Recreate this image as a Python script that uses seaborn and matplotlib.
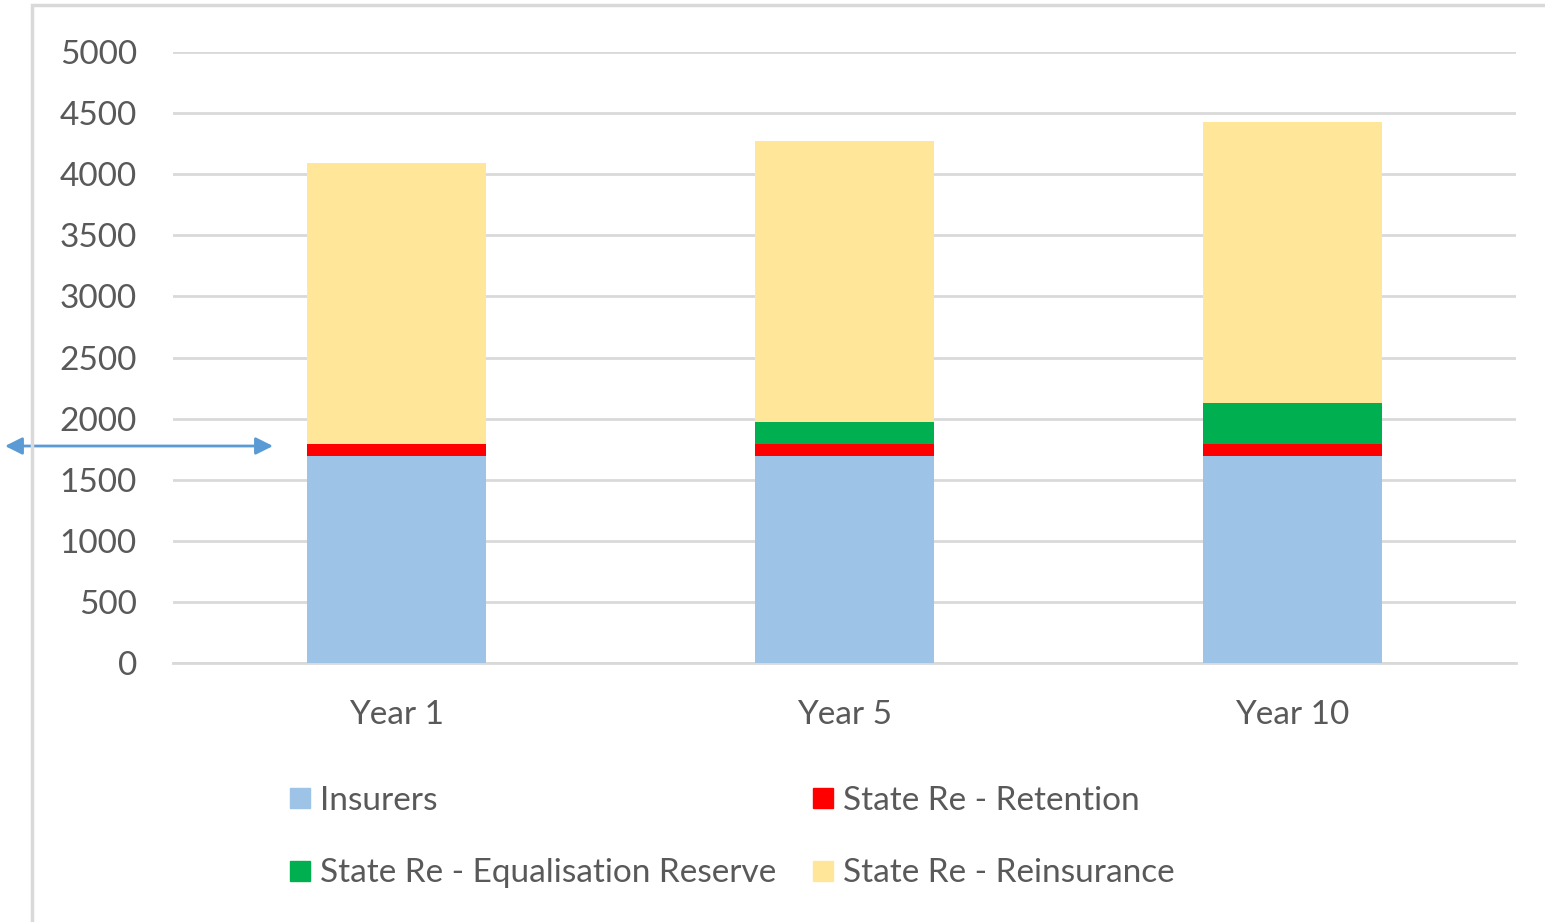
import matplotlib
matplotlib.use("Agg")
import matplotlib.pyplot as plt
from matplotlib.lines import Line2D
from matplotlib.patches import Rectangle, FancyArrowPatch
import seaborn as sns
import numpy as np

# Data
years = ["Year 1", "Year 5", "Year 10"]
insurers = [1690, 1690, 1690]
retention = [100, 100, 100]
equalisation = [0, 180, 340]
reinsurance = [2300, 2300, 2300]

series_names = ["Insurers", "State Re - Retention",
                "State Re - Equalisation Reserve", "State Re - Reinsurance"]
series_values = [insurers, retention, equalisation, reinsurance]
colors = ["#9DC3E6", "#FF0000", "#00B050", "#FFE699"]
yticks = [0, 500, 1000, 1500, 2000, 2500, 3000, 3500, 4000, 4500, 5000]

sns.set_theme(style="white")
plt.rcParams["font.family"] = ["Lato", "DejaVu Sans"]
text_color = "#595959"
grid_color = "#D9D9D9"

fig = plt.figure(figsize=(15.45, 9.22), dpi=100)
ax = fig.add_axes([173 / 1545, 1 - 662.7 / 922, (1516 - 173) / 1545, (662.7 - 52.3) / 922])

bottom = np.zeros(len(years))
for name, vals, c in zip(series_names, series_values, colors):
    sns.barplot(x=years, y=vals, bottom=bottom, color=c, width=0.4,
                ax=ax, label=name, zorder=3, linewidth=0, saturation=1)
    bottom = bottom + np.array(vals)

ax.set_ylim(0, 5000)
ax.set_xlim(-0.5, 2.5)
ax.set_yticks(yticks)
ax.set_yticklabels([str(t) for t in yticks])
ax.yaxis.grid(True, color=grid_color, linewidth=2.0, zorder=0)
ax.set_axisbelow(True)
for s in ["top", "right", "left"]:
    ax.spines[s].set_visible(False)
ax.spines["bottom"].set_color(grid_color)
ax.spines["bottom"].set_linewidth(2.0)
ax.tick_params(axis="both", length=0, labelsize=24, colors=text_color)
ax.tick_params(axis="y", pad=26)
ax.tick_params(axis="x", pad=27)
ax.set_xlabel("")
ax.set_ylabel("")
if ax.get_legend() is not None:
    ax.get_legend().remove()

# Legend: two rows of two items
handles = [Line2D([0], [0], marker="s", linestyle="none", markersize=15,
                  markerfacecolor=c, markeredgecolor=c) for c in colors]
order = [0, 2, 1, 3]
fig.legend([handles[i] for i in order], [series_names[i] for i in order],
           ncol=2, loc="center left", bbox_to_anchor=(290 / 1545, 1 - 837 / 922),
           frameon=False, fontsize=24, labelcolor=text_color,
           handlelength=0.6, handletextpad=0.3, columnspacing=1.1,
           labelspacing=1.28, borderaxespad=0, borderpad=0)

# Chart area border
fig.patches.append(Rectangle((32 / 1545, -0.05), 1.2, (1 - 5 / 922) + 0.05,
                             transform=fig.transFigure, fill=False,
                             edgecolor=grid_color, linewidth=2.5))

# Double-headed marker at the retention threshold
fig.add_artist(FancyArrowPatch(
    (5 / 1545, 1 - 446 / 922), (273 / 1545, 1 - 446 / 922),
    transform=fig.transFigure, arrowstyle="<|-|>", mutation_scale=26,
    shrinkA=0, shrinkB=0, color="#5B9BD5", linewidth=2))

fig.savefig("out.png", dpi=100)
